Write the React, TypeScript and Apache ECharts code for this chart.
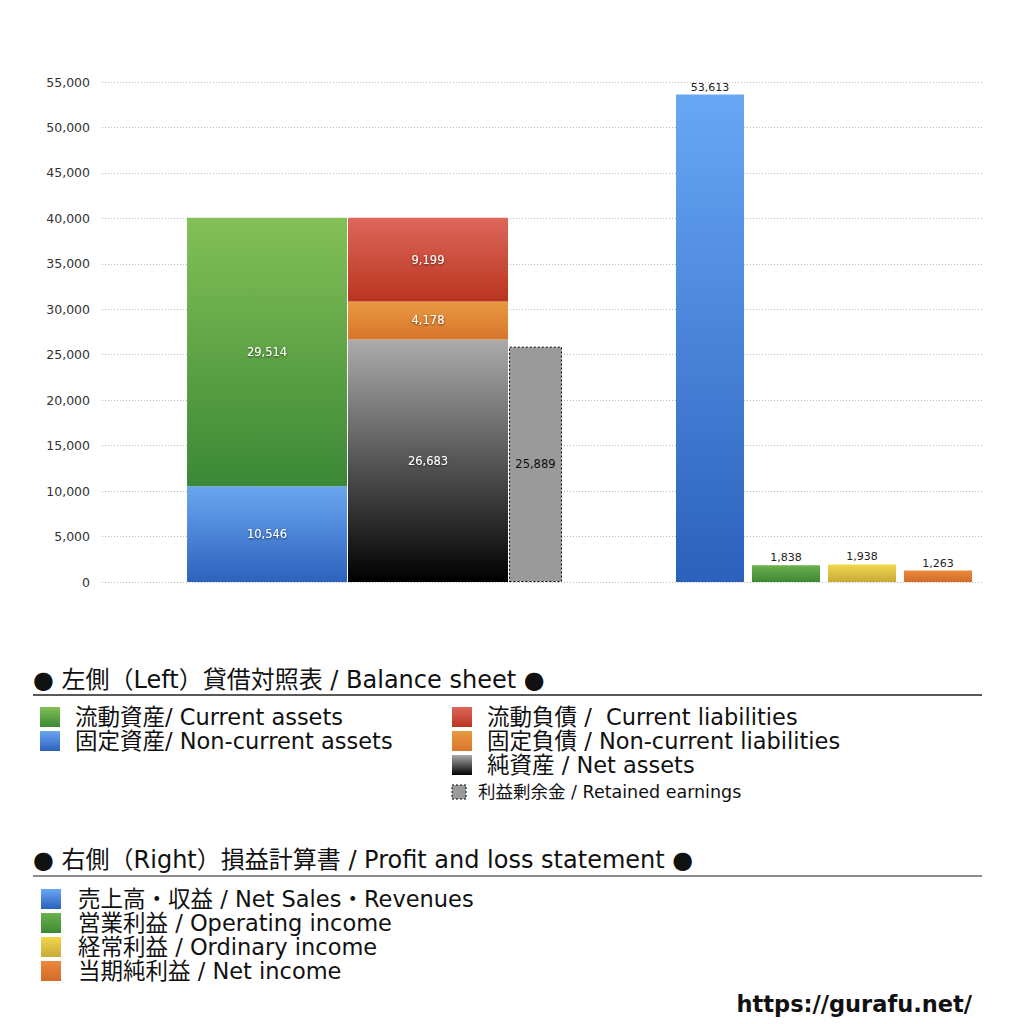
import { useEffect, useRef } from 'react';
import * as echarts from 'echarts';

const yMax = 55000;
const yInterval = 5000;

// balance sheet (left side)
const assetNames = ['固定資産', '流動資産'];
const assetValues = [10546, 29514];
const liabilityNames = ['純資産', '固定負債', '流動負債'];
const liabilityValues = [26683, 4178, 9199];
const retainedName = ['利益剰余金'];
const retainedValues = [25889];

// profit and loss (right side)
const plNames = ['売上高・収益', '営業利益', '経常利益', '当期純利益'];
const plValues = [53613, 1838, 1938, 1263];

const FONT = '"DejaVu Sans", "Noto Sans CJK JP", sans-serif';

const grad = (top: string, bottom: string) =>
  new echarts.graphic.LinearGradient(0, 0, 0, 1, [
    { offset: 0, color: top },
    { offset: 1, color: bottom },
  ]);

const GREEN = ['#84c057', '#3b8836'];
const BLUE = ['#6aa6f0', '#2d62bd'];
const RED = ['#dd675b', '#b9351f'];
const ORANGE = ['#e99a42', '#d8752b'];
const BLACK = ['#ababab', '#000000'];
const PL_COLORS = [
  ['#69a7f5', '#2b61bc'],
  ['#6cb14f', '#3d8934'],
  ['#f1d84b', '#c8aa3a'],
  ['#ea893b', '#d36b29'],
];

const fmt = (v: number) => v.toLocaleString('en-US');

const innerLabel = {
  show: true,
  position: 'inside',
  color: '#ffffff',
  fontSize: 11.5,
  fontFamily: FONT,
  textShadowColor: 'rgba(0,0,0,0.6)',
  textShadowBlur: 2,
  textShadowOffsetY: 1,
  formatter: (p: any) => fmt(p.value),
};

export default function App() {
  const chartRef = useRef(null);

  useEffect(() => {
    const chart = echarts.init(chartRef.current, null, { renderer: 'svg' });

    const legendText = (x: number, y: number, text: string, size = 22.5) => ({
      type: 'text',
      x,
      y,
      style: {
        text,
        fontSize: size,
        lineHeight: Math.min(size, 21),
        fontFamily: FONT,
        fill: '#111',
        textVerticalAlign: 'middle',
      },
    });
    const swatch = (x: number, y: number, c: string[]) => ({
      type: 'rect',
      shape: { x, y, width: 20, height: 20 },
      style: { fill: grad(c[0], c[1]) },
    });

    const option = {
      animation: false,
      backgroundColor: '#ffffff',
      grid: [
        { left: 102, right: 42, top: 82, height: 500 },
        { left: 187, width: 375, top: 82, height: 500 },
        { left: 672, width: 304, top: 82, height: 500 },
      ],
      xAxis: [
        { type: 'category', gridIndex: 0, data: [''], show: false },
        { type: 'category', gridIndex: 1, data: ['BS'], show: false },
        { type: 'category', gridIndex: 2, data: plNames, show: false },
      ],
      yAxis: [
        {
          type: 'value',
          gridIndex: 0,
          min: 0,
          max: yMax,
          interval: yInterval,
          axisLine: { show: false },
          axisTick: { show: false },
          axisLabel: {
            color: '#333',
            fontSize: 12.5,
            fontFamily: FONT,
            margin: 12,
            formatter: (v: number) => fmt(v),
          },
          splitLine: { lineStyle: { color: '#bbbbbb', type: [1, 2], width: 1 } },
        },
        { type: 'value', gridIndex: 1, min: 0, max: yMax, interval: yInterval, show: false },
        { type: 'value', gridIndex: 2, min: 0, max: yMax, interval: yInterval, show: false },
      ],
      series: [
        ...assetNames.map((name, i) => ({
          name,
          type: 'bar',
          xAxisIndex: 1,
          yAxisIndex: 1,
          stack: 'assets',
          barWidth: 160,
          barGap: '0.6%',
          data: [assetValues[i]],
          itemStyle: { color: i === 0 ? grad(BLUE[0], BLUE[1]) : grad(GREEN[0], GREEN[1]) },
          label: innerLabel,
        })),
        ...liabilityNames.map((name, i) => ({
          name,
          type: 'bar',
          xAxisIndex: 1,
          yAxisIndex: 1,
          stack: 'liabilities',
          barWidth: 160,
          barGap: '0.6%',
          data: [liabilityValues[i]],
          itemStyle: {
            color: [grad(BLACK[0], BLACK[1]), grad(ORANGE[0], ORANGE[1]), grad(RED[0], RED[1])][i],
          },
          label: innerLabel,
        })),
        {
          name: retainedName[0],
          type: 'bar',
          xAxisIndex: 1,
          yAxisIndex: 1,
          barWidth: 53,
          barGap: '0.6%',
          data: retainedValues,
          itemStyle: {
            color: '#9a9a9a',
            borderColor: '#000',
            borderWidth: 1,
            borderType: [2, 2],
          },
          label: { ...innerLabel, color: '#111', textShadowColor: 'transparent', textShadowBlur: 0 },
        },
        {
          name: '損益計算書',
          type: 'bar',
          xAxisIndex: 2,
          yAxisIndex: 2,
          barCategoryGap: '10.5%',
          data: plValues.map((v, i) => ({
            value: v,
            itemStyle: { color: grad(PL_COLORS[i][0], PL_COLORS[i][1]) },
          })),
          label: {
            show: true,
            position: 'top',
            distance: 2,
            color: '#222',
            fontSize: 11,
            fontFamily: FONT,
            formatter: (p: any) => fmt(p.value),
          },
        },
      ],
      graphic: [
        legendText(33, 680, '● 左側（Left）貸借対照表 / Balance sheet ●', 24),
        {
          type: 'line',
          shape: { x1: 33, y1: 695, x2: 982, y2: 695 },
          style: { stroke: '#222', lineWidth: 1.5 },
        },
        swatch(40, 707, GREEN),
        legendText(75, 717, '流動資産/ Current assets'),
        swatch(40, 731, BLUE),
        legendText(75, 741, '固定資産/ Non-current assets'),
        swatch(452, 707, RED),
        legendText(487, 717, '流動負債 /  Current liabilities'),
        swatch(452, 731, ORANGE),
        legendText(487, 741, '固定負債 / Non-current liabilities'),
        swatch(452, 755, BLACK),
        legendText(487, 765, '純資産 / Net assets'),
        {
          type: 'rect',
          shape: { x: 452, y: 785, width: 14, height: 14 },
          style: { fill: '#9a9a9a', stroke: '#000', lineWidth: 1, lineDash: [2, 2] },
        },
        legendText(478, 792, '利益剰余金 / Retained earnings', 17.5),

        legendText(33, 860, '● 右側（Right）損益計算書 / Profit and loss statement ●', 24),
        {
          type: 'line',
          shape: { x1: 33, y1: 876, x2: 982, y2: 876 },
          style: { stroke: '#666', lineWidth: 1.5 },
        },
        swatch(41, 889, PL_COLORS[0]),
        legendText(78, 899, '売上高・収益 / Net Sales・Revenues'),
        swatch(41, 913, PL_COLORS[1]),
        legendText(78, 923, '営業利益 / Operating income'),
        swatch(41, 937, PL_COLORS[2]),
        legendText(78, 947, '経常利益 / Ordinary income'),
        swatch(41, 961, PL_COLORS[3]),
        legendText(78, 971, '当期純利益 / Net income'),
        {
          type: 'text',
          x: 972,
          y: 1004,
          style: {
            text: 'https://gurafu.net/',
            fontSize: 22.5,
            fontWeight: 'bold',
            fontFamily: FONT,
            fill: '#111',
            textAlign: 'right',
            textVerticalAlign: 'middle',
          },
        },
      ],
    };

    chart.setOption(option);
    return () => {
      chart.dispose();
    };
  }, []);

  return (
    <div
      ref={chartRef}
      style={{ position: 'absolute', left: 0, top: 0, width: '1024px', height: '1024px' }}
    />
  );
}
